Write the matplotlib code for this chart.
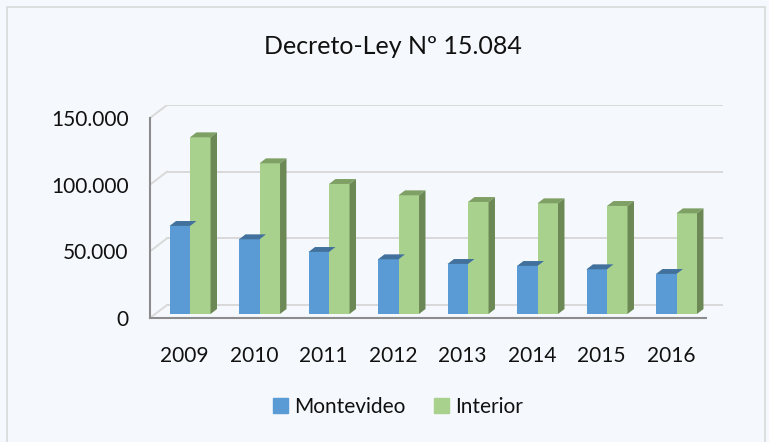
import matplotlib
matplotlib.use('Agg')
from matplotlib import pyplot as plt
from matplotlib.patches import Polygon, Rectangle, Patch
import numpy as np

years = ['2009', '2010', '2011', '2012', '2013', '2014', '2015', '2016']
montevideo = [66000, 56000, 46500, 41000, 37500, 36000, 33500, 30000]
interior = [132500, 113000, 97500, 89000, 84000, 83000, 81000, 75500]
ytick_vals = [0, 50000, 100000, 150000]
ytick_labels = ['0', '50.000', '100.000', '150.000']
title = 'Decreto-Ley Nº 15.084'

plt.rcParams['font.family'] = ['Lato', 'DejaVu Sans']

bg = '#F5F8FC'
txt = '#111111'
blue, blue_top = '#5B9BD5', '#41719C'
green, green_top, green_side = '#A9D18E', '#7FA064', '#6C8955'

# fake 3D depth, in data units
Dx = 0.245
Dy = 9750
f0 = 0.31     # where the bars' front face sits inside the depth
bd = 0.38     # bar depth as fraction of total depth
w = 0.295     # bar width

W, H = 769, 442
fig = plt.figure(figsize=(W / 100, H / 100), dpi=100, facecolor=bg)
fig.patches.append(Rectangle((7 / W, -0.1), 758 / W, 1.1 - 7 / H,
                             transform=fig.transFigure, fill=False,
                             edgecolor='#D9D9D9', lw=1.2))

ax = fig.add_axes([150 / W, (H - 318) / H, 573 / W, 213 / H])
ax.set_facecolor('none')
n = len(years)
ax.set_xlim(0, n + Dx)
ax.set_ylim(0, 150000 + Dy)

# back wall and left wall gridlines
for v in ytick_vals:
    ax.plot([Dx, n + Dx], [v + Dy, v + Dy], color='#D9D9D9', lw=1.4, zorder=1)
    ax.plot([0, Dx], [v, v + Dy], color='#D9D9D9', lw=1.4, zorder=1)

x = np.arange(n) + 0.5
bottom = f0 * Dy
xb = x - w + f0 * Dx
xg = x + f0 * Dx
ax.bar(xb, montevideo, width=w, bottom=bottom, align='edge', color=blue,
       zorder=3, label='Montevideo')
ax.bar(xg, interior, width=w, bottom=bottom, align='edge', color=green,
       zorder=3, label='Interior')

ddx, ddy = bd * Dx, bd * Dy
for x0, v, top_c in [(a, b, blue_top) for a, b in zip(xb, montevideo)] + \
                    [(a, b, green_top) for a, b in zip(xg, interior)]:
    t = bottom + v
    ax.add_patch(Polygon([(x0, t), (x0 + w, t), (x0 + w + ddx, t + ddy),
                          (x0 + ddx, t + ddy)], closed=True, color=top_c,
                         lw=0, zorder=4))
for x0, v in zip(xg, interior):
    t = bottom + v
    x1 = x0 + w
    ax.add_patch(Polygon([(x1, bottom), (x1, t), (x1 + ddx, t + ddy),
                          (x1 + ddx, bottom + ddy)], closed=True,
                         color=green_side, lw=0, zorder=4))

for s in ['top', 'right']:
    ax.spines[s].set_visible(False)
ax.spines['left'].set_bounds(0, 150000)
ax.spines['bottom'].set_bounds(0, n)
for s in ['left', 'bottom']:
    ax.spines[s].set_color('#8C8C8C')
    ax.spines[s].set_linewidth(1.5)
    ax.spines[s].set_zorder(5)

ax.set_yticks(ytick_vals)
ax.set_yticklabels(ytick_labels)
ax.set_xticks(x)
ax.set_xticklabels(years)
ax.tick_params(axis='y', length=0, pad=15.5, labelsize=15, labelcolor=txt)
ax.tick_params(axis='x', length=0, pad=20, labelsize=15, labelcolor=txt)

fig.text(393 / W, 1 - 46 / H, title, ha='center', va='center', fontsize=18,
         color=txt)

handles = [Patch(color=blue, label='Montevideo'),
           Patch(color=green, label='Interior')]
fig.legend(handles=handles, loc='center', bbox_to_anchor=(398 / W, 1 - 407 / H),
           ncol=2, frameon=False, fontsize=15, handlelength=0.7,
           handleheight=0.7, handletextpad=0.3, columnspacing=1.4,
           labelcolor=txt)

fig.savefig('out.png', dpi=100, facecolor=bg)
